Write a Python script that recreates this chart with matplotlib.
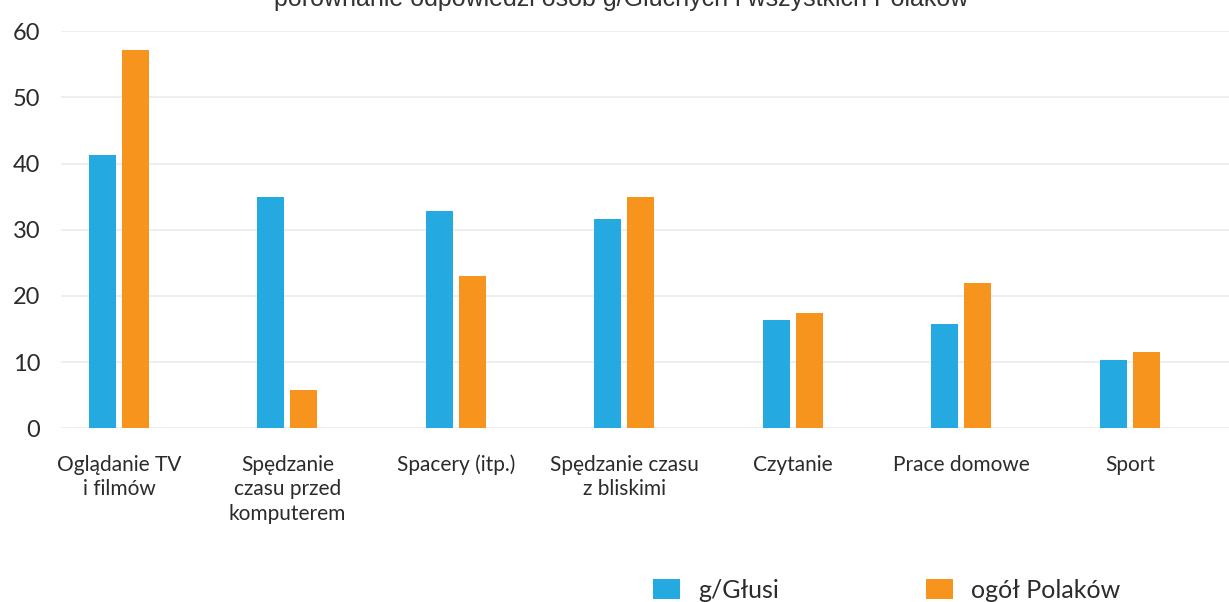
import numpy as np
import matplotlib
matplotlib.use("Agg")
import matplotlib.pyplot as plt

FONT = "Lato"
TEXT_COLOR = "#2b2b2b"
BLUE = "#24a9e1"
ORANGE = "#f7941e"

categories = [
    "Oglądanie TV\ni filmów",
    "Spędzanie\nczasu przed\nkomputerem",
    "Spacery (itp.)",
    "Spędzanie czasu\nz bliskimi",
    "Czytanie",
    "Prace domowe",
    "Sport",
]
gluchy = [41.3, 35.0, 32.9, 31.7, 16.4, 15.8, 10.3]
polacy = [57.2, 5.8, 23.0, 35.0, 17.4, 22.0, 11.5]
series_names = ["g/Głusi", "ogół Polaków"]
yticks = [0, 10, 20, 30, 40, 50, 60]
title = "porównanie odpowiedzi osób g/Głuchych i wszystkich Polaków"

fig = plt.figure(figsize=(12.29, 6.02), dpi=100)
ax = fig.add_axes([61 / 1229, 1 - 428.3 / 602, 1 - 61 / 1229, 397 / 602])

x = np.arange(len(categories))
w = 0.16
off = 0.098
b1 = ax.bar(x - off, gluchy, w, color=BLUE, zorder=3, label=series_names[0])
b2 = ax.bar(x + off, polacy, w, color=ORANGE, zorder=3, label=series_names[1])

ax.set_xlim(-0.344, 6.588)
ax.set_ylim(0, 60)
ax.set_yticks(yticks)
ax.set_xticks(x)
ax.set_xticklabels(categories, fontsize=15, family=FONT, color=TEXT_COLOR,
                   linespacing=1.3)
for lab in ax.get_yticklabels():
    lab.set_fontsize(17)
    lab.set_family(FONT)
    lab.set_color(TEXT_COLOR)
ax.tick_params(axis="both", length=0)
ax.tick_params(axis="y", pad=15)
ax.tick_params(axis="x", pad=19)
ax.grid(axis="y", color="#ebebeb", linewidth=1.2, zorder=0)
ax.set_axisbelow(True)
for s in ax.spines.values():
    s.set_visible(False)

fig.text(621 / 1229, 1 - 6 / 602, title, ha="center", va="baseline",
         fontsize=18, family="Liberation Sans", color="#333333")

fig.legend(handles=[b1, b2], loc="center left",
           bbox_to_anchor=(653 / 1229, 1 - 590 / 602),
           ncol=2, frameon=False, borderpad=0, borderaxespad=0,
           handlelength=1.08, handleheight=0.88, handletextpad=0.72,
           columnspacing=5.9,
           prop={"family": FONT, "size": 18})
for t in fig.legends[0].get_texts():
    t.set_color(TEXT_COLOR)

fig.savefig("out.png", dpi=100)
